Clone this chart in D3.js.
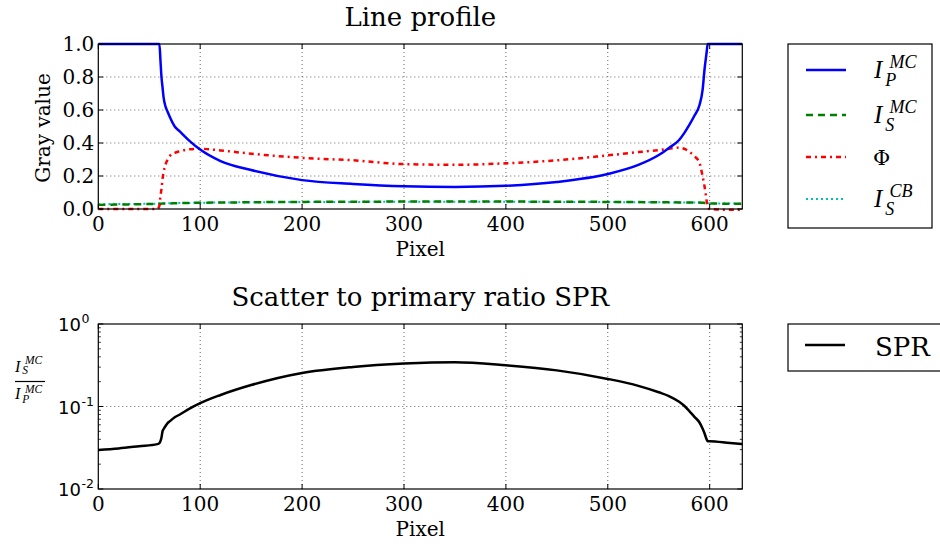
<!DOCTYPE html>
<html>
<head>
<meta charset="utf-8">
<script src="https://cdn.jsdelivr.net/npm/d3@7"></script>
<style>
body { margin: 0; background: #fff; }
text { font-family: "DejaVu Serif", serif; fill: #000; }
.math { font-family: "Liberation Serif", serif; font-style: italic; }
</style>
</head>
<body>
<script>
// datos
var pixel = [0,20,40,58,60,61,62,63,64,66,68,70,75,80,90,100,120,150,200,250,300,350,400,450,500,530,550,560,570,575,580,585,590,593,595,597,598,600,620,632];
var ipMC = [1,1,1,1,1,0.9,0.8,0.74,0.68,0.62,0.59,0.56,0.5,0.47,0.41,0.36,0.29,0.236,0.175,0.152,0.138,0.134,0.141,0.164,0.212,0.267,0.327,0.37,0.418,0.46,0.51,0.565,0.63,0.72,0.85,0.95,1,1,1,1];
var isMC = [0.025,0.027,0.029,0.031,0.032,0.032,0.032,0.033,0.033,0.033,0.034,0.034,0.035,0.036,0.037,0.038,0.039,0.041,0.043,0.044,0.045,0.045,0.045,0.044,0.043,0.042,0.041,0.041,0.040,0.040,0.040,0.039,0.039,0.038,0.037,0.036,0.035,0.034,0.032,0.031];
var isCB = [0.029,0.030,0.031,0.032,0.033,0.033,0.033,0.034,0.034,0.034,0.035,0.035,0.036,0.036,0.037,0.038,0.039,0.041,0.042,0.043,0.044,0.044,0.044,0.043,0.042,0.041,0.041,0.040,0.040,0.040,0.039,0.039,0.038,0.038,0.037,0.036,0.035,0.034,0.033,0.032];
var phi = [0,0,0,0,0.02,0.08,0.12,0.18,0.22,0.27,0.3,0.32,0.34,0.35,0.362,0.365,0.355,0.335,0.31,0.295,0.272,0.268,0.277,0.295,0.325,0.345,0.357,0.365,0.372,0.365,0.347,0.32,0.28,0.2,0.135,0.05,0.01,0,-0.005,-0.005];
var spr = [0.0297,0.031,0.033,0.035,0.036,0.038,0.042,0.05,0.053,0.058,0.063,0.066,0.074,0.08,0.095,0.11,0.138,0.182,0.255,0.302,0.332,0.345,0.316,0.274,0.216,0.178,0.149,0.134,0.114,0.102,0.088,0.075,0.064,0.054,0.047,0.04,0.038,0.038,0.036,0.035];

var xTicks = [0,100,200,300,400,500,600];
var yTicks = [0,0.2,0.4,0.6,0.8,1.0];
var logTicks = [0.01,0.1,1];
var logExp = ["-2","-1","0"];

var width = 940, height = 544;
var left = 98.3, right = 742.3;

var svg = d3.select("body").append("svg")
  .attr("width", width)
  .attr("height", height);

var x = d3.scaleLinear().domain([0, 632]).range([left, right]);
var y1 = d3.scaleLinear().domain([0, 1]).range([209, 44]);
var y2 = d3.scaleLog().domain([0.01, 1]).range([489, 324]);

var series = [
  {vals: isCB, color: "#00bfbf", dash: "2,3", w: 2},
  {vals: isMC, color: "#008000", dash: "7,5", w: 2.5},
  {vals: phi, color: "#ff0000", dash: "5,4,2,4", w: 2.5},
  {vals: ipMC, color: "#0000ff", dash: null, w: 2.5}
];

// rejilla y ejes
function grid(g, yScale, yt) {
  g.selectAll(".gx").data(xTicks.slice(1)).enter().append("line")
    .attr("x1", d => x(d)).attr("x2", d => x(d))
    .attr("y1", yScale.range()[0]).attr("y2", yScale.range()[1])
    .attr("stroke", "#000").attr("stroke-width", 0.6).attr("stroke-dasharray", "1,3");
  g.selectAll(".gy").data(yt).enter().append("line")
    .attr("x1", left).attr("x2", right)
    .attr("y1", d => yScale(d)).attr("y2", d => yScale(d))
    .attr("stroke", "#000").attr("stroke-width", 0.6).attr("stroke-dasharray", "1,3");
}

function frame(g, yScale, yt, minor) {
  var y0 = yScale.range()[0], yTop = yScale.range()[1];
  xTicks.forEach(function(t) {
    g.append("line").attr("x1", x(t)).attr("x2", x(t)).attr("y1", y0).attr("y2", y0 - 5).attr("stroke", "#000");
    g.append("line").attr("x1", x(t)).attr("x2", x(t)).attr("y1", yTop).attr("y2", yTop + 5).attr("stroke", "#000");
  });
  yt.forEach(function(t) {
    g.append("line").attr("x1", left).attr("x2", left + 5).attr("y1", yScale(t)).attr("y2", yScale(t)).attr("stroke", "#000");
    g.append("line").attr("x1", right).attr("x2", right - 5).attr("y1", yScale(t)).attr("y2", yScale(t)).attr("stroke", "#000");
  });
  minor.forEach(function(t) {
    g.append("line").attr("x1", left).attr("x2", left + 2.5).attr("y1", yScale(t)).attr("y2", yScale(t)).attr("stroke", "#000").attr("stroke-width", 0.8);
    g.append("line").attr("x1", right).attr("x2", right - 2.5).attr("y1", yScale(t)).attr("y2", yScale(t)).attr("stroke", "#000").attr("stroke-width", 0.8);
  });
  g.append("rect").attr("x", left).attr("y", yTop)
    .attr("width", right - left).attr("height", y0 - yTop)
    .attr("fill", "none").attr("stroke", "#000").attr("stroke-width", 1.2);
  g.selectAll(".xl").data(xTicks).enter().append("text")
    .attr("x", d => x(d)).attr("y", y0 + 22)
    .attr("text-anchor", "middle").attr("font-size", 20)
    .text(d => d);
  g.append("text").attr("x", (left + right) / 2).attr("y", y0 + 47)
    .attr("text-anchor", "middle").attr("font-size", 20).text("Pixel");
}

// I con sub y superindice, en un solo texto
function mathI(g, xp, yp, sub, sup, size, supUp, subDown) {
  var s = size * 0.72;
  var t = g.append("text").attr("class", "math").attr("font-size", size);
  t.append("tspan").attr("x", xp).attr("y", yp).text("I");
  t.append("tspan").attr("x", xp + size * 0.62).attr("y", yp - size * supUp).attr("font-size", s).text(sup);
  t.append("tspan").attr("x", xp + size * 0.45).attr("y", yp + size * subDown).attr("font-size", s).text(sub);
}

// grafico de arriba
var g1 = svg.append("g");
grid(g1, y1, yTicks.slice(1, -1));
var clip = svg.append("defs").append("clipPath").attr("id", "c1");
clip.append("rect").attr("x", left).attr("y", 42).attr("width", right - left).attr("height", 170);

var line1 = d3.line().x((d, i) => x(pixel[i])).y(d => y1(d)).curve(d3.curveMonotoneX);
series.forEach(function(s) {
  g1.append("path").datum(s.vals)
    .attr("d", line1)
    .attr("clip-path", "url(#c1)")
    .attr("fill", "none")
    .attr("stroke", s.color)
    .attr("stroke-width", s.w)
    .attr("stroke-dasharray", s.dash);
});
frame(g1, y1, yTicks, []);
g1.selectAll(".yl").data(yTicks).enter().append("text")
  .attr("x", left - 4).attr("y", d => y1(d) + 7)
  .attr("text-anchor", "end").attr("font-size", 20)
  .text(d => d.toFixed(1));
g1.append("text").attr("transform", "translate(50,128) rotate(-90)")
  .attr("text-anchor", "middle").attr("font-size", 20).text("Gray value");
svg.append("text").attr("x", (left + right) / 2).attr("y", 26)
  .attr("text-anchor", "middle").attr("font-size", 26).text("Line profile");

// leyenda de arriba
var lg = svg.append("g");
lg.append("rect").attr("x", 788).attr("y", 44).attr("width", 144).attr("height", 184)
  .attr("fill", "#fff").attr("stroke", "#000").attr("stroke-width", 1.2);
var legY = [70, 115, 157, 199];
var legOrder = [3, 1, 2, 0];
legOrder.forEach(function(k, i) {
  var s = series[k];
  lg.append("line").attr("x1", 806).attr("x2", 846)
    .attr("y1", legY[i]).attr("y2", legY[i])
    .attr("stroke", s.color).attr("stroke-width", s.w).attr("stroke-dasharray", s.dash);
});
mathI(lg, 874, 78, "P", "MC", 25, 0.4, 0.3);
mathI(lg, 874, 123, "S", "MC", 25, 0.4, 0.3);
lg.append("text").attr("x", 873).attr("y", 165).attr("font-size", 21).text("\u03A6");
mathI(lg, 874, 207, "S", "CB", 25, 0.4, 0.3);

// grafico de abajo
var g2 = svg.append("g");
grid(g2, y2, [0.1]);
var minor = [];
[0.01, 0.1].forEach(function(d) { for (var m = 2; m < 10; m++) minor.push(d * m); });
var line2 = d3.line().x((d, i) => x(pixel[i])).y(d => y2(d)).curve(d3.curveMonotoneX);
g2.append("path").datum(spr)
  .attr("d", line2).attr("fill", "none")
  .attr("stroke", "#000").attr("stroke-width", 2.5);
frame(g2, y2, logTicks, minor);
logTicks.forEach(function(t, i) {
  var lab = g2.append("text").attr("font-size", 18)
    .style("font-family", "'DejaVu Sans', sans-serif");
  lab.append("tspan").attr("x", 58).attr("y", y2(t) + 7).text("10");
  lab.append("tspan").attr("x", 81.5).attr("y", y2(t) - 1).attr("font-size", 12.5).text(logExp[i]);
});
svg.append("text").attr("x", (left + right) / 2).attr("y", 306)
  .attr("text-anchor", "middle").attr("font-size", 26).text("Scatter to primary ratio SPR");

// etiqueta y como fraccion
mathI(svg, 15, 372, "S", "MC", 16, 0.5, 0.15);
svg.append("line").attr("x1", 15).attr("x2", 45).attr("y1", 381.5).attr("y2", 381.5).attr("stroke", "#000").attr("stroke-width", 1.2);
mathI(svg, 15, 399, "P", "MC", 16, 0.36, 0.22);

// leyenda de abajo
var lg2 = svg.append("g");
lg2.append("rect").attr("x", 788).attr("y", 324).attr("width", 170).attr("height", 47)
  .attr("fill", "#fff").attr("stroke", "#000").attr("stroke-width", 1.2);
lg2.append("line").attr("x1", 805).attr("x2", 845).attr("y1", 345).attr("y2", 345)
  .attr("stroke", "#000").attr("stroke-width", 2.5);
lg2.append("text").attr("x", 875).attr("y", 356).attr("font-size", 26).text("SPR");
</script>
</body>
</html>
